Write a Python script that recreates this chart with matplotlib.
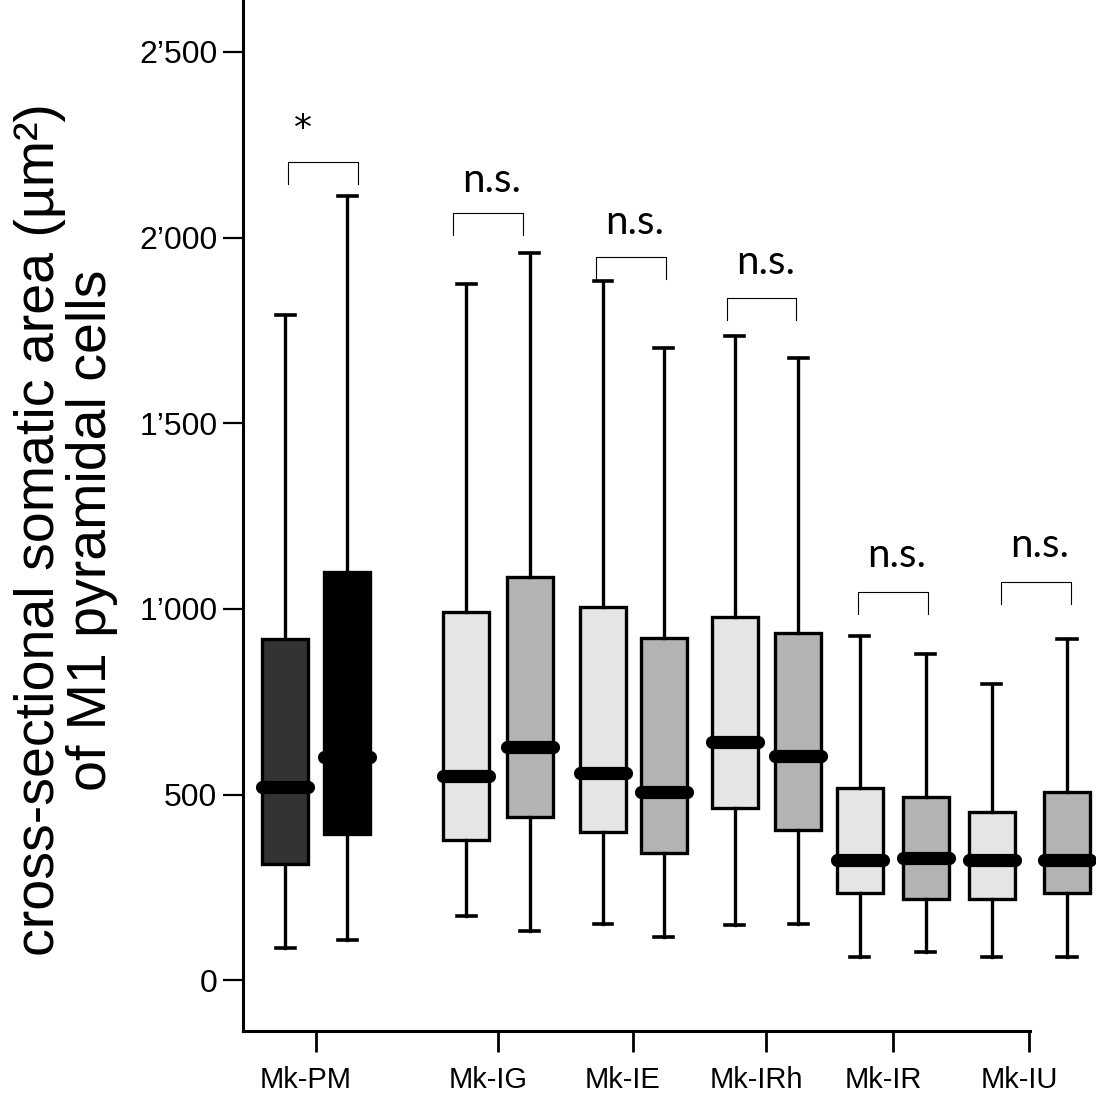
import numpy as np
import matplotlib
matplotlib.use('Agg')
import matplotlib.pyplot as plt
import matplotlib.transforms as mtransforms

# groups and box statistics (µm^2)
groups = ['Mk-PM', 'Mk-IG', 'Mk-IE', 'Mk-IRh', 'Mk-IR', 'Mk-IU']

# first box of each pair
left_low = [86, 172, 151, 148, 62, 62]
left_q1 = [312, 377, 399, 463, 234, 218]
left_med = [520, 550, 558, 642, 323, 323]
left_q3 = [918, 991, 1005, 978, 517, 453]
left_high = [1791, 1875, 1883, 1735, 927, 797]

# second box of each pair
right_low = [108, 132, 116, 151, 75, 62]
right_q1 = [393, 439, 342, 404, 218, 234]
right_med = [601, 628, 506, 603, 329, 323]
right_q3 = [1099, 1086, 921, 935, 493, 506]
right_high = [2112, 1958, 1703, 1676, 878, 919]

# significance brackets
sig_labels = ['*', 'n.s.', 'n.s.', 'n.s.', 'n.s.', 'n.s.']
sig_top = [2204, 2066, 1948, 1837, 1045, 1072]
sig_text_y = [2293, 2155, 2042, 1932, 1145, 1172]

# layout (x in figure-pixel/100 units)
group_x = [3.16, 4.98, 6.33, 7.66, 8.93, 10.29]
left_x = [2.85, 4.66, 6.03, 7.35, 8.60, 9.92]
right_x = [3.47, 5.30, 6.64, 7.98, 9.26, 10.67]
bracket_x = [3.23, 4.88, 6.31, 7.615, 8.93, 10.36]

left_colors = ['#333333'] + ['#e5e5e5'] * 5
right_colors = ['#000000'] + ['#b3b3b3'] * 5

fig = plt.figure(figsize=(10.96, 10.94), dpi=100)
ax = fig.add_axes([243 / 1096, 63 / 1094, 853 / 1096, 1031 / 1094])

stats = []
positions = []
colors = []
for i in range(len(groups)):
    stats.append(dict(whislo=left_low[i], q1=left_q1[i], med=left_med[i],
                      q3=left_q3[i], whishi=left_high[i], fliers=[]))
    positions.append(left_x[i])
    colors.append(left_colors[i])
    stats.append(dict(whislo=right_low[i], q1=right_q1[i], med=right_med[i],
                      q3=right_q3[i], whishi=right_high[i], fliers=[]))
    positions.append(right_x[i])
    colors.append(right_colors[i])

bp = ax.bxp(stats, positions=positions, widths=0.46, capwidths=0.19,
            patch_artist=True, showfliers=False,
            boxprops=dict(linewidth=2.4, edgecolor='black'),
            whiskerprops=dict(linewidth=2.4, color='black'),
            capprops=dict(linewidth=2.6, color='black'),
            medianprops=dict(linewidth=9.5, color='black', solid_capstyle='round'))
for patch, c in zip(bp['boxes'], colors):
    patch.set_facecolor(c)

# brackets
for i in range(len(groups)):
    x0 = bracket_x[i] - 0.35
    x1 = bracket_x[i] + 0.35
    top = sig_top[i]
    ax.plot([x0, x0, x1, x1], [top - 60, top, top, top - 60],
            color='black', linewidth=0.8, clip_on=False)
    if sig_labels[i] == '*':
        ax.text(bracket_x[i] - 0.2, sig_text_y[i], sig_labels[i], ha='center', va='center',
                fontsize=26, family='DejaVu Sans')
    else:
        ax.text(bracket_x[i] + 0.04, sig_text_y[i], sig_labels[i], ha='center', va='center',
                fontsize=29, family='Lato')

ax.set_xlim(2.43, 10.96)
ax.set_ylim(-137, 2640)

ax.spines['top'].set_visible(False)
ax.spines['right'].set_visible(False)
ax.spines['left'].set_linewidth(2.2)
ax.spines['bottom'].set_linewidth(2.2)
ax.spines['bottom'].set_bounds(2.43, 10.30)

yticks = [0, 500, 1000, 1500, 2000, 2500]
ax.set_yticks(yticks)
ax.set_yticklabels([f'{v:,}'.replace(',', '\u2019') for v in yticks],
                   fontsize=23, family='Liberation Sans')
ax.tick_params(axis='y', direction='out', length=14.5, width=1.6, pad=4)

ax.set_xticks(group_x)
ax.set_xticklabels(groups, fontsize=21, family='Liberation Sans')
ax.tick_params(axis='x', direction='out', length=15, width=2.0, pad=10)
offset = mtransforms.ScaledTranslation(-0.10, 0, fig.dpi_scale_trans)
for lab in ax.get_xticklabels():
    lab.set_transform(lab.get_transform() + offset)

fig.text(66 / 1096, 1 - 530 / 1094,
         'cross-sectional somatic area (\u00b5m\u00b2)\nof M1 pyramidal cells',
         rotation=90, ha='center', va='center', multialignment='center',
         fontsize=40, family='Liberation Sans', linespacing=1.0)

fig.savefig('out.png', dpi=100)
